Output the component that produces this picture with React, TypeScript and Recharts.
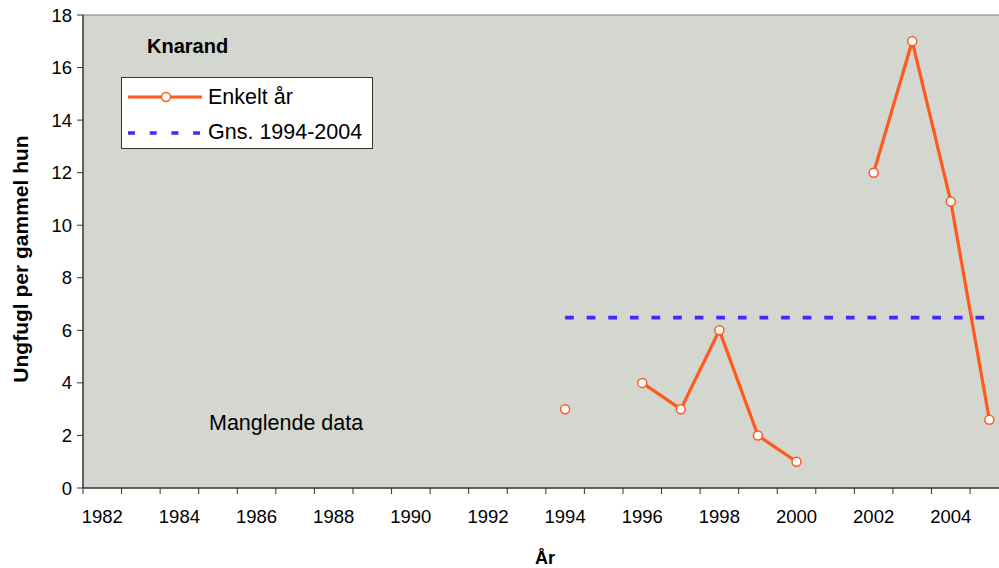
import {
  LineChart,
  Line,
  XAxis,
  YAxis,
  CartesianGrid,
  ReferenceLine,
  Legend,
} from 'recharts'

const years = [1994, 1995, 1996, 1997, 1998, 1999, 2000, 2001, 2002, 2003, 2004, 2005]
const enkeltAr = [3, null, 4, 3, 6, 2, 1, null, 12, 17, 10.9, 2.6]
const gnsValue = 6.48

const axisYears = [
  1982, 1983, 1984, 1985, 1986, 1987, 1988, 1989, 1990, 1991, 1992, 1993,
  1994, 1995, 1996, 1997, 1998, 1999, 2000, 2001, 2002, 2003, 2004, 2005,
]
const xLabelYears = [1982, 1984, 1986, 1988, 1990, 1992, 1994, 1996, 1998, 2000, 2002, 2004]
const yTicks = [0, 2, 4, 6, 8, 10, 12, 14, 16, 18]

const data = years.map((year, i) => ({
  year,
  enkelt: enkeltAr[i],
  gns: gnsValue,
}))

const W = 999
const H = 568
const Y_AXIS_W = 83
const X_DOMAIN: [number, number] = [1981.5, 2005.25]
// half of one year's width in px, the tick marks sit between the years
const HALF_YEAR = (W - Y_AXIS_W) / (X_DOMAIN[1] - X_DOMAIN[0]) / 2

const FONT = '"Liberation Sans", Arial, sans-serif'
const ORANGE = '#ff5a1e'
const BLUE = '#4428ff'
const AXIS = '#333333'

function YearTick(props: any) {
  const { x, y, payload } = props
  const showLabel = xLabelYears.includes(payload.value)
  return (
    <g>
      <line
        x1={x - HALF_YEAR}
        y1={y}
        x2={x - HALF_YEAR}
        y2={y + 6}
        stroke={AXIS}
        strokeWidth={1}
      />
      {showLabel && (
        <text
          x={x}
          y={y + 34.5}
          textAnchor="middle"
          fontSize={18.5}
          fontFamily={FONT}
          fill="#000"
        >
          {payload.value}
        </text>
      )}
    </g>
  )
}

function LegendBox() {
  return (
    <svg width={252} height={72} style={{ display: 'block' }}>
      <rect x={0.5} y={0.5} width={251} height={71} fill="#fff" stroke={AXIS} />
      <line x1={7} y1={20} x2={81} y2={20} stroke={ORANGE} strokeWidth={3.2} />
      <circle cx={45} cy={20} r={4.5} fill="#fff" stroke={ORANGE} strokeWidth={1.5} />
      <text x={87} y={27} fontSize={21.5} fontFamily={FONT} fill="#000">
        Enkelt år
      </text>
      <line
        x1={7}
        y1={56}
        x2={81}
        y2={56}
        stroke={BLUE}
        strokeWidth={3.7}
        strokeDasharray="7 14.7"
      />
      <text x={87} y={62} fontSize={21.5} fontFamily={FONT} fill="#000">
        Gns. 1994-2004
      </text>
    </svg>
  )
}

export default function App() {
  return (
    <div
      style={{
        position: 'absolute',
        left: 0,
        top: 0,
        width: W,
        height: H,
        overflow: 'hidden',
        fontFamily: FONT,
      }}
    >
      <LineChart
        width={W}
        height={H}
        data={data}
        margin={{ top: 15, right: 0, bottom: 0, left: 0 }}
      >
        <CartesianGrid fill="#d4d6d0" horizontal={false} vertical={false} />
        <XAxis
          dataKey="year"
          type="number"
          domain={X_DOMAIN}
          allowDataOverflow
          ticks={axisYears}
          interval={0}
          tickSize={0}
          tickMargin={0}
          tickLine={false}
          tick={YearTick}
          height={80}
          axisLine={{ stroke: AXIS, strokeWidth: 1.5 }}
          label={{
            value: 'År',
            position: 'insideBottom',
            offset: 4,
            fontSize: 18,
            fontWeight: 'bold',
            fill: '#000',
            fontFamily: FONT,
            dx: 4,
          }}
        />
        <YAxis
          domain={[0, 18]}
          ticks={yTicks}
          interval={0}
          width={Y_AXIS_W}
          tickSize={6}
          tickMargin={5}
          axisLine={{ stroke: AXIS, strokeWidth: 1.5 }}
          tickLine={{ stroke: AXIS }}
          tick={{ fontSize: 18.5, fill: '#000', fontFamily: FONT }}
        />
        <ReferenceLine y={18} stroke="#a0a0a0" strokeWidth={1.5} />
        <Legend
          layout="vertical"
          align="center"
          verticalAlign="middle"
          wrapperStyle={{ top: 77, left: 121, width: 252, height: 72 }}
          content={() => <LegendBox />}
        />
        <Line
          dataKey="gns"
          name="Gns. 1994-2004"
          stroke={BLUE}
          strokeWidth={3.7}
          strokeDasharray="8.7 12.9"
          dot={false}
          activeDot={false}
          isAnimationActive={false}
        />
        <Line
          dataKey="enkelt"
          name="Enkelt år"
          stroke={ORANGE}
          strokeWidth={3.2}
          connectNulls={false}
          dot={{ r: 4.5, fill: '#fff', stroke: ORANGE, strokeWidth: 1.5 }}
          activeDot={false}
          isAnimationActive={false}
        />
      </LineChart>
      <svg
        width={W}
        height={H}
        style={{ position: 'absolute', left: 0, top: 0, pointerEvents: 'none' }}
      >
        <text x={147} y={53} fontSize={20} fontWeight="bold" fontFamily={FONT} fill="#000">
          Knarand
        </text>
        <text x={209} y={430} fontSize={21.5} fontFamily={FONT} fill="#000">
          Manglende data
        </text>
        <text
          x={28}
          y={259}
          fontSize={21}
          fontWeight="bold"
          fontFamily={FONT}
          fill="#000"
          textAnchor="middle"
          transform="rotate(-90 28 259)"
        >
          Ungfugl per gammel hun
        </text>
      </svg>
    </div>
  )
}
